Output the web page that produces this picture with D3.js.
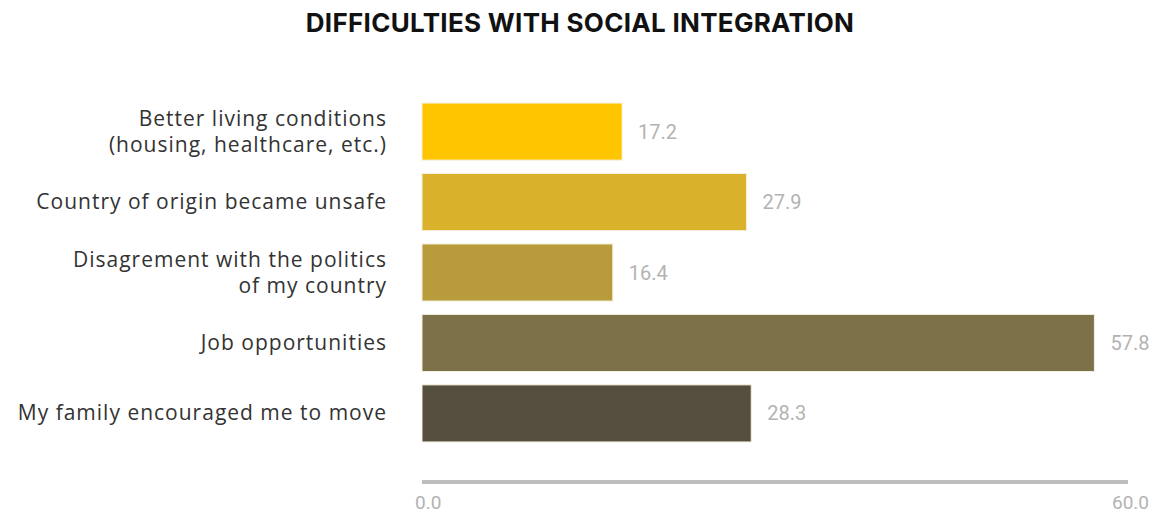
<!DOCTYPE html>
<html>
<head>
<meta charset="utf-8">
<script src="https://d3js.org/d3.v7.min.js"></script>
<style>
  body { margin: 0; background: #fff; }
</style>
</head>
<body>
<script>
// data
const categories = [
  ["Better living conditions", "(housing, healthcare, etc.)"],
  ["Country of origin became unsafe"],
  ["Disagrement with the politics", "of my country"],
  ["Job opportunities"],
  ["My family encouraged me to move"]
];
const values = [17.2, 27.9, 16.4, 57.8, 28.3];
const barColors = ["#ffc600", "#d9b12a", "#b89b3b", "#7d714a", "#554e3e"];
const tickValues = [0, 60];

const width = 1159, height = 515;

const svg = d3.select("body").append("svg")
  .attr("width", width)
  .attr("height", height);

// title
svg.append("text")
  .attr("x", 580).attr("y", 32)
  .attr("text-anchor", "middle")
  .style("font-family", "Inter, 'Noto Sans', sans-serif")
  .style("font-weight", 700)
  .style("font-size", "26px")
  .style("letter-spacing", "0.3px")
  .style("fill", "#111")
  .text("DIFFICULTIES WITH SOCIAL INTEGRATION");

const x = d3.scaleLinear().domain([0, 60]).range([422, 1120]);
const y = d3.scaleBand().domain(d3.range(values.length)).range([96, 449]).paddingInner(0.19).paddingOuter(0.1);

// bars
svg.selectAll("rect.bar")
  .data(values)
  .enter().append("rect")
  .attr("class", "bar")
  .attr("x", x(0))
  .attr("y", (d, i) => y(i))
  .attr("width", d => x(d) - x(0))
  .attr("height", y.bandwidth())
  .attr("fill", (d, i) => barColors[i])
  .attr("stroke", "#f4efe0")
  .attr("stroke-width", 1);

// value labels
svg.selectAll("text.val")
  .data(values)
  .enter().append("text")
  .attr("class", "val")
  .attr("x", d => x(d) + 16)
  .attr("y", (d, i) => y(i) + y.bandwidth() / 2 + 7)
  .style("font-family", "Roboto, sans-serif")
  .style("font-size", "20px")
  .style("fill", "#b3b3b3")
  .text(d => d.toFixed(1));

// category labels
const cat = svg.selectAll("text.cat")
  .data(categories)
  .enter().append("text")
  .attr("class", "cat")
  .attr("text-anchor", "end")
  .style("font-family", "'Open Sans', sans-serif")
  .style("font-size", "21px")
  .style("letter-spacing", "1px")
  .style("fill", "#333");

cat.each(function(lines, i) {
  const cy = y(i) + y.bandwidth() / 2;
  const lh = 26;
  const y0 = cy - (lines.length - 1) * lh / 2 + 7;
  d3.select(this).selectAll("tspan")
    .data(lines)
    .enter().append("tspan")
    .attr("x", 387)
    .attr("y", (d, j) => y0 + j * lh)
    .text(d => d);
});

// x axis
const axisY = 482;
svg.append("line")
  .attr("x1", x.range()[0]).attr("x2", x.range()[1] + 8)
  .attr("y1", axisY).attr("y2", axisY)
  .attr("stroke", "#bdbdbd")
  .attr("stroke-width", 4);

svg.selectAll("text.tick")
  .data(tickValues)
  .enter().append("text")
  .attr("class", "tick")
  .attr("x", d => d === 0 ? x(d) - 7 : x(d) + 29)
  .attr("y", 509)
  .attr("text-anchor", d => d === 0 ? "start" : "end")
  .style("font-family", "Roboto, sans-serif")
  .style("font-size", "19px")
  .style("fill", "#b3b3b3")
  .text(d => d.toFixed(1));
</script>
</body>
</html>
